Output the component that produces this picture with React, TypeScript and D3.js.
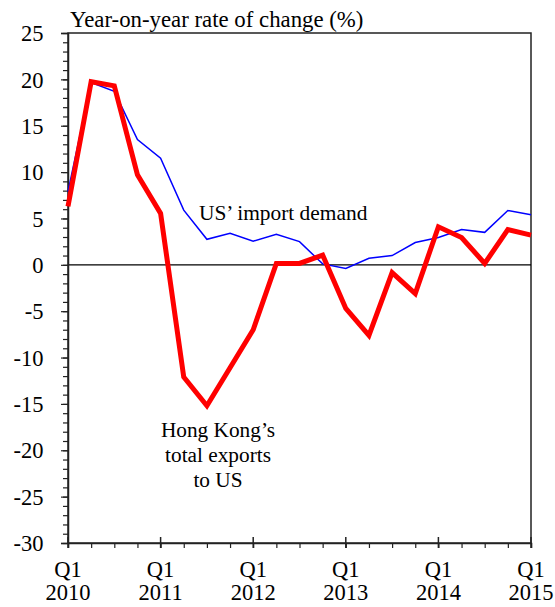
import React, { useEffect, useRef } from 'react';
import * as d3 from 'd3';

// Quarterly data, Q1 2010 .. Q1 2015
const quarters = [
  '2010Q1', '2010Q2', '2010Q3', '2010Q4',
  '2011Q1', '2011Q2', '2011Q3', '2011Q4',
  '2012Q1', '2012Q2', '2012Q3', '2012Q4',
  '2013Q1', '2013Q2', '2013Q3', '2013Q4',
  '2014Q1', '2014Q2', '2014Q3', '2014Q4',
  '2015Q1',
];

// Hong Kong's total exports to US (%)
const hkExports = [
  6.3, 19.75, 19.3, 9.7, 5.55, -12.1, -15.2, -11.1, -7.0, 0.15, 0.15,
  1.05, -4.7, -7.6, -0.85, -3.1, 4.1, 2.95, 0.15, 3.8, 3.2,
];

// US' import demand (%)
const usImports = [
  7.9, 19.65, 18.7, 13.5, 11.5, 5.9, 2.75, 3.4, 2.55, 3.3, 2.5,
  0.1, -0.4, 0.7, 1.0, 2.4, 2.95, 3.8, 3.5, 5.85, 5.4,
];

const yearTicks = ['2010', '2011', '2012', '2013', '2014', '2015'];
const yMajorTicks = [-30, -25, -20, -15, -10, -5, 0, 5, 10, 15, 20, 25];

const FONT = "'Liberation Serif', 'Times New Roman', serif";

export default function App() {
  const svgRef = useRef<SVGSVGElement | null>(null);

  useEffect(() => {
    const width = 555, height = 607;
    const margin = { top: 33, right: 24, bottom: 64, left: 68 };
    const innerWidth = width - margin.left - margin.right;
    const innerHeight = height - margin.top - margin.bottom;

    const svg = d3.select(svgRef.current)
      .attr('width', width)
      .attr('height', height)
      .attr('viewBox', `0 0 ${width} ${height}`)
      .style('font-family', FONT);
    svg.selectAll('*').remove();

    const chart = svg.append('g')
      .attr('transform', `translate(${margin.left},${margin.top})`);

    // Scales
    const x = d3.scaleLinear()
      .domain([0, quarters.length - 1])
      .range([0, innerWidth]);

    const y = d3.scaleLinear()
      .domain([-30, 25])
      .range([innerHeight, 0]);

    // Frame (top and right)
    chart.append('rect')
      .attr('x', 0)
      .attr('y', 0)
      .attr('width', innerWidth)
      .attr('height', innerHeight)
      .attr('fill', 'none')
      .attr('stroke', '#222')
      .attr('stroke-width', 1.5);

    // Zero line
    chart.append('line')
      .attr('x1', 0)
      .attr('x2', innerWidth)
      .attr('y1', y(0))
      .attr('y2', y(0))
      .attr('stroke', '#000')
      .attr('stroke-width', 1.2);

    // Y axis: minor ticks every 1, major every 5
    const yAxisMinor = d3.axisLeft(y)
      .tickValues(d3.range(-30, 26, 1))
      .tickSize(5)
      .tickFormat(() => '');
    chart.append('g')
      .attr('class', 'y-minor')
      .call(yAxisMinor)
      .call(g => g.select('.domain').remove())
      .selectAll('line')
        .attr('stroke', '#222')
        .attr('stroke-width', 1.2);

    const yAxis = d3.axisLeft(y)
      .tickValues(yMajorTicks)
      .tickSize(7)
      .tickPadding(17.5)
      .tickFormat(d => `${d}`);
    chart.append('g')
      .attr('class', 'y-axis')
      .call(yAxis)
      .attr('font-family', FONT)
      .attr('font-size', 22.5)
      .call(g => g.select('.domain')
        .attr('stroke', '#222')
        .attr('stroke-width', 1.5))
      .call(g => g.selectAll('line')
        .attr('stroke', '#222')
        .attr('stroke-width', 1.2))
      .selectAll('text')
        .attr('fill', '#000')
        .attr('dy', '0.34em');

    // X axis: minor ticks each quarter (down), major at Q1 (crossing)
    const xAxisMinor = d3.axisBottom(x)
      .tickValues(quarters.map((_, i) => i))
      .tickSize(5)
      .tickFormat(() => '');
    chart.append('g')
      .attr('transform', `translate(0,${innerHeight})`)
      .call(xAxisMinor)
      .call(g => g.select('.domain')
        .attr('stroke', '#222')
        .attr('stroke-width', 1.5))
      .selectAll('line')
        .attr('stroke', '#222')
        .attr('stroke-width', 1.2);

    const yearIdx = yearTicks.map(yr => quarters.indexOf(`${yr}Q1`));
    const xMajor = chart.append('g')
      .attr('class', 'x-axis')
      .attr('transform', `translate(0,${innerHeight})`);
    xMajor.selectAll('line')
      .data(yearIdx)
      .join('line')
        .attr('x1', d => x(d))
        .attr('x2', d => x(d))
        .attr('y1', -6)
        .attr('y2', 5)
        .attr('stroke', '#222')
        .attr('stroke-width', 1.5);

    const labels = xMajor.selectAll('text')
      .data(yearTicks)
      .join('text')
        .attr('x', (_, i) => x(yearIdx[i]))
        .attr('text-anchor', 'middle')
        .attr('font-size', 22.5)
        .attr('font-family', FONT)
        .attr('fill', '#000');
    labels.append('tspan')
      .attr('x', (_, i) => x(yearIdx[i]))
      .attr('y', 34)
      .text('Q1');
    labels.append('tspan')
      .attr('x', (_, i) => x(yearIdx[i]))
      .attr('y', 57)
      .text(d => d);

    // Lines
    const line = d3.line<number>()
      .x((_, i) => x(i))
      .y(d => y(d));

    chart.append('path')
      .datum(usImports)
      .attr('d', line)
      .attr('fill', 'none')
      .attr('stroke', '#0000ff')
      .attr('stroke-width', 1.5)
      .attr('stroke-linejoin', 'miter');

    chart.append('path')
      .datum(hkExports)
      .attr('d', line)
      .attr('fill', 'none')
      .attr('stroke', '#ff0000')
      .attr('stroke-width', 5)
      .attr('stroke-linejoin', 'miter');

    // Title
    svg.append('text')
      .attr('x', 70)
      .attr('y', 27)
      .attr('font-size', 22.8)
      .attr('font-family', FONT)
      .attr('fill', '#000')
      .text('Year-on-year rate of change (%)');

    // Annotations
    svg.append('text')
      .attr('x', 199)
      .attr('y', 220)
      .attr('font-size', 21.4)
      .attr('font-family', FONT)
      .attr('fill', '#000')
      .text('US\u2019 import demand');

    const hk = svg.append('text')
      .attr('text-anchor', 'middle')
      .attr('font-size', 21.3)
      .attr('font-family', FONT)
      .attr('fill', '#000');
    ['Hong Kong\u2019s', 'total exports', 'to US'].forEach((t, i) => {
      hk.append('tspan')
        .attr('x', 218)
        .attr('y', 437 + i * 25)
        .text(t);
    });
  }, []);

  return (
    <svg
      ref={svgRef}
      style={{ position: 'absolute', left: 0, top: 0, display: 'block', background: '#fff' }}
    />
  );
}
